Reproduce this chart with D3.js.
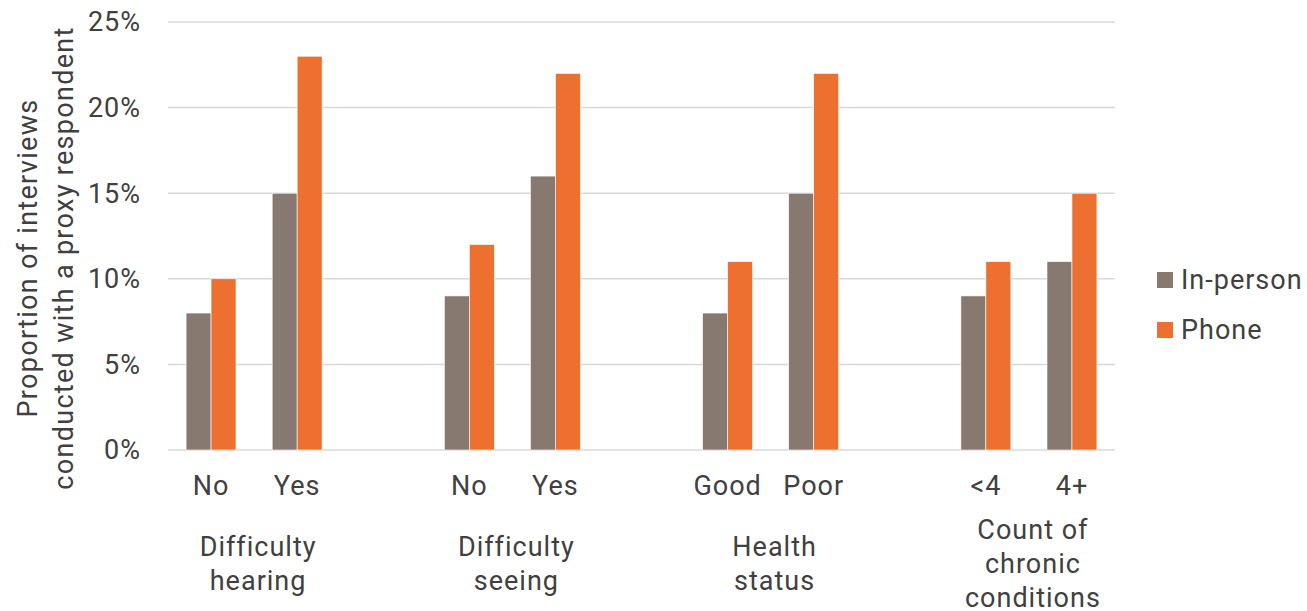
<!DOCTYPE html>
<html>
<head>
<meta charset="utf-8">
<script src="https://cdn.jsdelivr.net/npm/d3@7"></script>
<style>
  html, body { margin: 0; padding: 0; background: #ffffff; }
  svg text { font-family: Roboto, "Noto Sans", sans-serif; fill: #404040; font-size: 27px; letter-spacing: 1px; }
</style>
</head>
<body>
<svg id="chart" width="1307" height="611"></svg>
<script>
// Category groups (multi-line labels) and their sub-categories
const groupLabels = [
  ["Difficulty", "hearing"],
  ["Difficulty", "seeing"],
  ["Health", "status"],
  ["Count of", "chronic", "conditions"]
];
const subLabels = [
  ["No", "Yes"],
  ["No", "Yes"],
  ["Good", "Poor"],
  ["<4", "4+"]
];
// Share of interviews conducted with a proxy respondent (%)
const inPerson = [8, 15, 9, 16, 8, 15, 9, 11];
const phone    = [10, 23, 12, 22, 11, 22, 11, 15];
const seriesNames = ["In-person", "Phone"];
const seriesColors = ["#887970", "#ED7030"];
const yTicks = [0, 5, 10, 15, 20, 25];

// Build flat rows: each sub-category sits in a slot; an empty slot separates groups
const rows = [];
subLabels.forEach((subs, g) => {
  subs.forEach((label, j) => {
    const i = rows.length;
    rows.push({ slot: g * 3 + j, group: g, label, values: [inPerson[i], phone[i]] });
  });
});
const slotCount = subLabels.length * 3 - 1;

const svg = d3.select("#chart");
const plot = { left: 168, right: 1115, top: 22, bottom: 450 };

const x0 = d3.scaleBand()
  .domain(d3.range(slotCount))
  .range([plot.left, plot.right])
  .paddingInner(0.42)
  .paddingOuter(0.21);
const x1 = d3.scaleBand()
  .domain(d3.range(seriesNames.length))
  .range([0, x0.bandwidth()]);
const y = d3.scaleLinear().domain([0, 25]).range([plot.bottom, plot.top]);

// Horizontal gridlines
svg.append("g")
  .selectAll("line")
  .data(yTicks)
  .join("line")
  .attr("x1", plot.left)
  .attr("x2", plot.right)
  .attr("y1", d => y(d))
  .attr("y2", d => y(d))
  .attr("stroke", "#d9d9d9")
  .attr("stroke-width", 1.5);

// Y tick labels
svg.append("g")
  .selectAll("text")
  .data(yTicks)
  .join("text")
  .attr("x", 141)
  .attr("y", d => y(d))
  .attr("dy", "0.35em")
  .attr("text-anchor", "end")
  .text(d => d + "%");

// Bars
const barGroups = svg.append("g")
  .selectAll("g")
  .data(rows)
  .join("g")
  .attr("transform", d => `translate(${x0(d.slot)},0)`);
barGroups.selectAll("rect")
  .data(d => d.values.map((v, s) => ({ v, s })))
  .join("rect")
  .attr("x", d => x1(d.s))
  .attr("width", x1.bandwidth())
  .attr("y", d => y(d.v))
  .attr("height", d => y(0) - y(d.v))
  .attr("fill", d => seriesColors[d.s])
  .attr("stroke", "#ffffff")
  .attr("stroke-width", 0.6);

// Sub-category labels
svg.append("g")
  .selectAll("text")
  .data(rows)
  .join("text")
  .attr("x", d => x0(d.slot) + x0.bandwidth() / 2)
  .attr("y", 495)
  .attr("text-anchor", "middle")
  .text(d => d.label);

// Group labels, vertically centred below the sub-categories
const lineH = 34;
svg.append("g")
  .selectAll("text")
  .data(groupLabels.map((lines, g) => {
    const slots = rows.filter(r => r.group === g).map(r => x0(r.slot) + x0.bandwidth() / 2);
    return { lines, cx: d3.mean(slots) + 4 };
  }))
  .join("text")
  .attr("text-anchor", "middle")
  .each(function(d) {
    const t = d3.select(this);
    const startY = 564 - (d.lines.length - 1) * lineH / 2;
    d.lines.forEach((line, k) => {
      t.append("tspan")
        .attr("x", d.cx)
        .attr("y", startY + k * lineH)
        .attr("dy", "0.35em")
        .text(line);
    });
  });

// Y axis title (two lines, rotated)
const title = svg.append("text")
  .attr("transform", "translate(37,258) rotate(-90)")
  .attr("text-anchor", "middle")
  .style("letter-spacing", "1.3px");
title.append("tspan").attr("x", 0).attr("y", 0).text("Proportion of interviews");
title.append("tspan").attr("x", 0).attr("y", 36).text("conducted with a proxy respondent");

// Legend
const legend = svg.append("g")
  .selectAll("g")
  .data(seriesNames)
  .join("g")
  .attr("transform", (d, i) => `translate(1157,${280 + i * 50})`);
legend.append("rect")
  .attr("x", 0)
  .attr("y", -8)
  .attr("width", 16)
  .attr("height", 16)
  .attr("fill", (d, i) => seriesColors[i]);
legend.append("text")
  .attr("x", 24)
  .attr("y", 0)
  .attr("dy", "0.35em")
  .text(d => d);
</script>
</body>
</html>
